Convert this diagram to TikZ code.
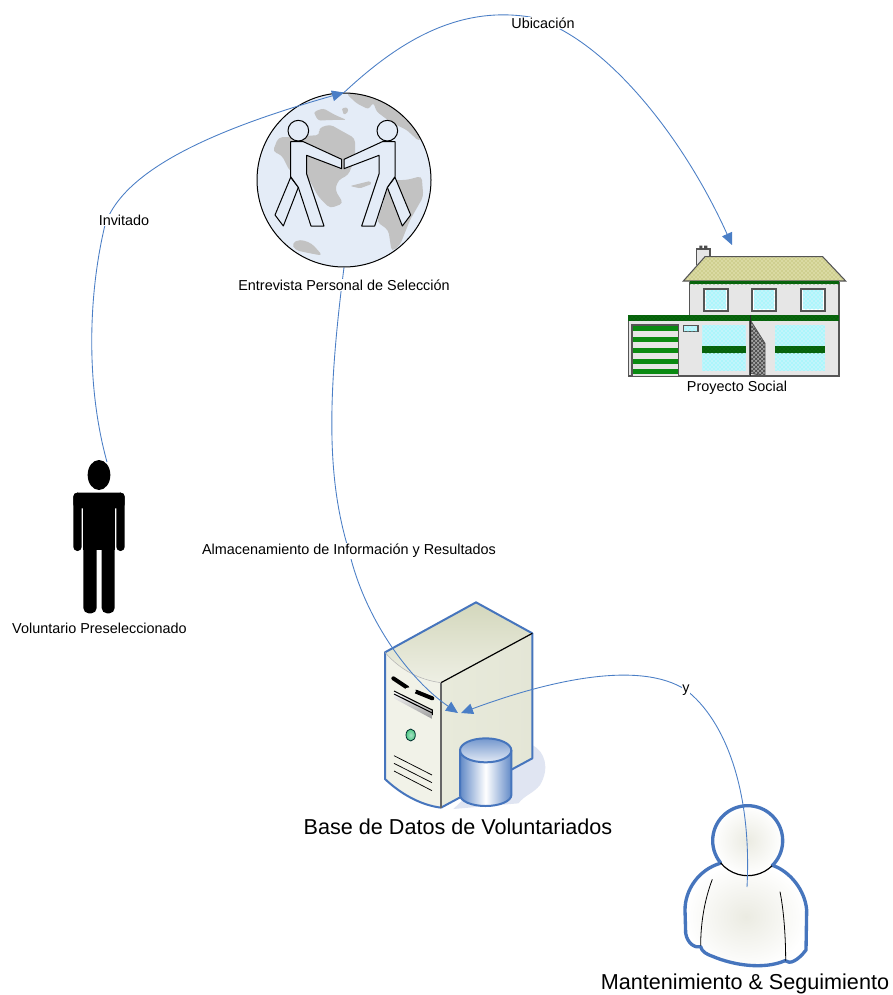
\documentclass[tikz,border=0pt]{standalone}
\usepackage{fontspec}
\setmainfont{Liberation Sans}
\usetikzlibrary{arrows.meta,patterns}
\definecolor{conn}{HTML}{4A7EC6}
\definecolor{iconblue}{HTML}{4675BD}
\definecolor{gland}{HTML}{C2C2C2}
\definecolor{gsea}{HTML}{E4ECF7}
\definecolor{hwall}{HTML}{E6E6E6}
\definecolor{hgreen}{HTML}{0A8A12}
\definecolor{hdark}{HTML}{555555}
\definecolor{shadowc}{HTML}{E0E5F2}
\definecolor{srvTopA}{HTML}{D3D7BC}
\definecolor{srvTopB}{HTML}{EEEFE4}
\definecolor{srvFront}{HTML}{F1F2E8}
\definecolor{srvRightA}{HTML}{E8EADB}
\definecolor{srvRightB}{HTML}{E4E6D6}
\definecolor{glassbase}{HTML}{C2F4FB}
\definecolor{roofbase}{HTML}{CFCF90}
\definecolor{personmid}{HTML}{EBEBE2}
\tikzset{
 connector/.style={draw=conn,line width=0.65pt,-{Triangle[length=9pt,width=8pt,fill=conn]}},
 smalllabel/.style={font=\fontsize{10.8}{12}\selectfont,fill=white,inner sep=0.6pt},
 biglabel/.style={font=\fontsize{16.2}{18}\selectfont,fill=white,inner sep=0.6pt},
 figure/.style={draw=black,line width=0.75pt,fill=gsea,line join=round},
 wall/.style={draw=hdark,line width=0.9pt,fill=hwall},
 glass/.style={preaction={fill=glassbase},pattern=crosshatch dots,pattern color=cyan!60!white},
 glassframe/.style={draw=hdark,line width=1.5pt,fill=white},
 band/.style={preaction={fill=hgreen!75!black},pattern=crosshatch dots,pattern color=black!70!green},
 zoomA/.style={x=0.25pt,y=-0.25pt},
 serverface/.style={draw=iconblue,line width=1.5pt,line join=round},
 personline/.style={draw=iconblue,line width=2.5pt,line join=round,line cap=round},
}
\begin{document}
\begin{tikzpicture}[x=0.75pt,y=-0.75pt]
\useasboundingbox (0,0) rectangle (892,995);
\fill[white] (0,0) rectangle (892,995);

% ---------- globe ----------
\fill[gsea] (344,180) circle (87);
\begin{scope}
\clip (344,180) circle (87);
\begin{scope}[shift={(240,80)},zoomA]
\fill[gland,rounded corners=2pt]
 (320,42)--(350,70)--(385,88)--(400,68)--(410,95)--(450,125)--(500,150)--(535,182)--(600,150)--(500,50)--(400,20)--cycle;
\fill[gland,rounded corners=1pt] (305,85)--(322,82)--(325,95)--(312,105)--cycle;
\fill[gland,rounded corners=2pt] (222,95)--(250,85)--(285,105)--(320,120)--(270,120)--(235,122)--(225,105)--cycle;
\fill[gland,rounded corners=3pt]
 (235,145)--(270,133)--(300,150)--(345,175)--(345,235)--(325,285)--(295,300)--(285,330)--(310,370)--(270,385)--(235,350)--(200,285)--(150,275)--(125,225)--(98,215)--(115,172)--(170,170)--(240,165)--cycle;
\fill[gland,rounded corners=1pt] (330,318)--(390,303)--(395,312)--(360,325)--cycle;
\fill[gland,rounded corners=3pt]
 (440,300)--(500,300)--(545,288)--(550,350)--(510,420)--(480,495)--(455,515)--(445,450)--(410,425)--(430,370)--cycle;
\fill[gland,rounded corners=3pt] (155,490)--(180,478)--(215,490)--(248,527)--(200,518)--(165,510)--cycle;
\end{scope}
\end{scope}
\node[circle,draw=black,line width=0.75pt,minimum size=130.5pt,inner sep=0pt] (globo) at (344,180) {};
\begin{scope}[shift={(240,80)},zoomA]
\draw[figure] (152,292)--(105,405)--(130,438)--(175,322)--cycle;
\draw[figure] (152,185)--(190,185)--(305,238)--(305,266)--(200,226)--(200,282)--(252,438)--(213,438)--(175,322)--(152,290)--cycle;
\draw[figure] (175,152) circle (31);
\draw[figure] (465,292)--(512,405)--(487,438)--(442,322)--cycle;
\draw[figure] (465,185)--(427,185)--(312,238)--(312,266)--(417,226)--(417,282)--(365,438)--(404,438)--(442,322)--(465,290)--cycle;
\draw[figure] (442,152) circle (31);
\end{scope}

% ---------- man ----------
\begin{scope}[shift={(60,450)},zoomA]
\fill[black] (117,75) ellipse [x radius=34,y radius=45];
\fill[black,rounded corners=3pt] (40,128) rectangle (194,175);
\fill[black,rounded corners=3pt] (40,128) rectangle (65,303);
\fill[black,rounded corners=3pt] (169,128) rectangle (194,303);
\fill[black] (70,140) rectangle (164,300);
\fill[black,rounded corners=4pt] (70,200) rectangle (110,490);
\fill[black,rounded corners=4pt] (125,200) rectangle (164,490);
\end{scope}
\coordinate (voluntario) at (107,462);

% ---------- house ----------
\begin{scope}[shift={(620,235)},zoomA]
\draw[draw=hdark,line width=0.8pt,fill=hwall] (230,90)--(230,42)--(270,42)--(270,90);
\fill[black!70] (238,32) rectangle (247,43) (252,32) rectangle (262,43);
\draw[wall] (209,142) rectangle (657,423);
\draw[draw=hdark,line width=0.8pt,preaction={fill=roofbase},pattern=crosshatch dots,pattern color=white!90!yellow]
 (255,65)--(608,65)--(677,138)--(190,138)--cycle;
\fill[band] (209,139) rectangle (657,147);
\foreach \x in {252,397,543}{
 \draw[glassframe] (\x,161) rectangle ++(71,67);
 \fill[glass] (\x+5,166) rectangle ++(61,57);
}
\draw[wall] (25,250) rectangle (390,423);
\fill[band] (25,240) rectangle (657,257);
% garage
\fill[hwall] (36,270) rectangle (176,423);
\foreach \y in {274,306,339,372,403}{\fill[hgreen] (36,\y) rectangle (176,\y+14);}
\draw[hdark,line width=0.9pt] (36,423)--(36,270)--(176,270)--(176,423);
% small window
\draw[draw=hdark,line width=0.8pt,fill=white] (190,271) rectangle (234,290);
\fill[glass] (192,273) rectangle (232,288);
% big windows
\fill[glass] (247,270) rectangle (377,407);
\fill[band] (247,334) rectangle (377,355);
\fill[glass] (466,270) rectangle (614,407);
\fill[band] (466,334) rectangle (614,355);
% door
\draw[draw=hdark,line width=0.6pt,preaction={fill=black!35},pattern=crosshatch,pattern color=black!75]
 (392,257)--(435,325)--(435,423)--(392,415)--cycle;
\draw[black!85,line width=0.7pt] (390,240)--(390,423);
\end{scope}
\coordinate (casa) at (732,245);

% ---------- server ----------
\begin{scope}[shift={(370,595)},zoomA]
\fill[shadowc] (487,450) .. controls (525,470) and (540,520) .. (510,570)
 .. controls (490,595) and (465,600) .. (445,625) -- (250,642) -- (400,500) -- cycle;
\shade[left color=srvRightA,right color=srvRightB]
 (213,263) -- (487,115) -- (487,490) -- (213,638) -- cycle;
\shade[top color=srvTopA,bottom color=srvTopB]
 (45,172) -- (318,22) -- (487,115) -- (213,263) .. controls (150,255) and (90,225) .. cycle;
\fill[srvFront]
 (45,172) .. controls (90,225) and (150,255) .. (213,263) -- (213,638)
 .. controls (150,630) and (90,595) .. (45,552) -- cycle;
\draw[serverface] (213,638) .. controls (150,630) and (90,595) .. (45,552) -- (45,172) -- (318,22) -- (487,115) -- (487,490) -- (213,638);
\draw[black,line width=0.9pt] (213,263) -- (487,115);
\draw[black!60,line width=0.9pt] (213,263) -- (213,638);
\draw[white!70!black,line width=0.4pt] (45,172) .. controls (90,225) and (150,255) .. (213,263);
% front panel
\draw[black,line width=3pt,line cap=round] (70,250) -- (112,278);
\draw[black,line width=3pt,line cap=round] (138,290) -- (187,310);
\fill[srvFront] (120,288) ellipse [x radius=18,y radius=11];
\shade[top color=white,bottom color=black!40] (72,288) -- (187,345) -- (187,372) -- (72,310) -- cycle;
\draw[black,line width=0.8pt] (72,288) -- (187,345) -- (187,360);
\draw[black,line width=0.8pt] (72,297) -- (187,354);
\shadedraw[inner color=green!30!teal!35!white,outer color=green!40!teal!70!white,draw=black!65!teal,line width=0.6pt] (122,420) ellipse [x radius=14,y radius=18];
\draw[black,line width=0.55pt] (72,482) -- (186,540);
\draw[black,line width=0.55pt] (72,505) -- (186,563);
\draw[black,line width=0.55pt] (72,528) -- (186,587);
% cylinder
\shade[left color=iconblue!85!white,right color=iconblue!85!white,middle color=white]
 (270,466) -- (270,600) arc [start angle=180,end angle=0,x radius=77,y radius=33] -- (424,466) -- cycle;
\shade[top color=iconblue!75!white,bottom color=white!85!iconblue]
 (347,466) ellipse [x radius=77,y radius=36];
\draw[serverface] (270,466) -- (270,600) arc [start angle=180,end angle=0,x radius=77,y radius=33] -- (424,466);
\draw[serverface] (347,466) ellipse [x radius=77,y radius=36];
\end{scope}
\coordinate (servidor) at (458,713);
\coordinate (servidorB) at (461,713);

% ---------- person ----------
\begin{scope}[shift={(670,795)},zoomA]
\shade[inner color=personmid,outer color=white]
 (150,205) .. controls (85,225) and (45,285) .. (45,345)
 -- (47,415) .. controls (52,445) and (75,460) .. (92,455)
 .. controls (95,470) and (110,478) .. (130,485)
 .. controls (190,510) and (280,525) .. (345,497)
 .. controls (360,510) and (385,495) .. (408,465)
 -- (410,345) .. controls (405,285) and (360,230) .. (310,212)
 .. controls (290,245) and (175,250) .. (150,205) -- cycle;
\draw[personline]
 (150,205) .. controls (85,225) and (45,285) .. (45,345)
 -- (47,415) .. controls (52,445) and (75,460) .. (92,455)
 .. controls (95,470) and (110,478) .. (130,485)
 .. controls (190,510) and (280,525) .. (345,497)
 .. controls (360,510) and (385,495) .. (408,465)
 -- (410,345) .. controls (405,285) and (360,230) .. (310,212);
\shade[inner color=personmid,outer color=white] (233,137) circle (105);
\draw[personline] (233,137) ++(140.7:105) arc [start angle=140.7,end angle=406,radius=105];
\draw[black,line width=0.9pt] (233,137) ++(46:105) arc [start angle=46,end angle=140.7,radius=105];
\draw[black,line width=0.6pt] (127,253) .. controls (105,310) and (92,380) .. (92,452);
\draw[black,line width=0.6pt] (330,290) .. controls (342,350) and (347,430) .. (347,497);
\end{scope}
\coordinate (mantenimiento) at (747,887);

% ---------- labels ----------
\node[smalllabel] (lblVoluntario) at (99.5,628) {Voluntario Preseleccionado};
\node[smalllabel] (lblProyecto) at (737,388) {Proyecto Social};
\node[biglabel] (lblBase) at (458,827) {Base de Datos de Voluntariados};
\node[biglabel] (lblMant) at (745,984) {Mantenimiento \& Seguimiento};

% ---------- connector anchors (labels on the curves) ----------
\coordinate (viaInv) at (105,225);
\coordinate (viaUbi) at (530,17);
\coordinate (viaAlm) at (349,551);
\coordinate (viaY) at (686,690);

% ---------- connectors ----------
\draw[connector] (voluntario) .. controls (87,390) and (87,300) .. (viaInv)
  .. controls (125,165) and (230,125) .. (globo.north);
\draw[connector] (globo.north) .. controls (395,45) and (455,5) .. (viaUbi)
  .. controls (600,35) and (680,130) .. (casa);
\draw[connector] (globo.south) .. controls (327,400) and (327,480) .. (viaAlm)
  .. controls (365,620) and (410,680) .. (servidor);
\draw[connector] (mantenimiento) .. controls (752,790) and (725,720) .. (viaY)
  .. controls (640,660) and (550,680) .. (servidorB);

% ---------- labels sitting on connectors ----------
\node[smalllabel] (lblEntrevista) at (344,285) {Entrevista Personal de Selección};
\node[smalllabel] (lblInvitado) at (124,220) {Invitado};
\node[smalllabel] (lblUbicacion) at (543,23) {Ubicación};
\node[smalllabel] (lblAlm) at (349,551) {Almacenamiento de Información y Resultados};
\node[smalllabel] (lblY) at (686,690) {y};
\end{tikzpicture}
\end{document}
